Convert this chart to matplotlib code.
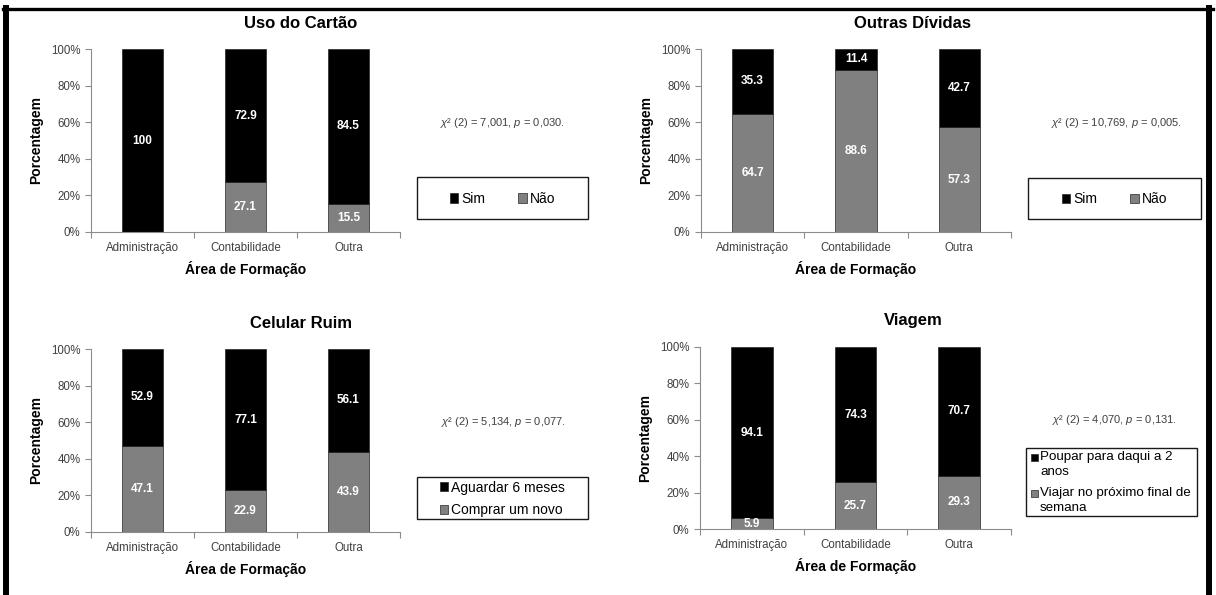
import matplotlib
matplotlib.use("Agg")
import matplotlib.pyplot as plt
from matplotlib.patches import Rectangle
from matplotlib.lines import Line2D
import numpy as np

plt.rcParams['font.family'] = ['Liberation Sans', 'DejaVu Sans']
plt.rcParams['mathtext.fontset'] = 'custom'
plt.rcParams['mathtext.rm'] = 'Liberation Sans'
plt.rcParams['mathtext.it'] = 'Liberation Sans:italic'

# data
categories = ['Administração', 'Contabilidade', 'Outra']

cartao_sim = [100, 72.9, 84.5]
cartao_nao = [0, 27.1, 15.5]

dividas_sim = [35.3, 11.4, 42.7]
dividas_nao = [64.7, 88.6, 57.3]

celular_aguardar = [52.9, 77.1, 56.1]
celular_comprar = [47.1, 22.9, 43.9]

viagem_poupar = [94.1, 74.3, 70.7]
viagem_viajar = [5.9, 25.7, 29.3]

W, H = 1216, 595
BLACK = '#000000'
GRAY = '#808080'
TICK_COLOR = '#404040'
SPINE_COLOR = '#8c8c8c'

fig = plt.figure(figsize=(W / 100, H / 100), dpi=100)


def fx(x):
    return x / W


def fy(y):
    return 1 - y / H


def wrapped_legend(labels, colors, leg_box):
    # legend with wrapped labels: marker aligned with the first line of each entry
    lx0, ly0, lx1, ly1 = leg_box
    y = ly0 + 9
    for label, color in zip(labels, colors):
        lines = label.split('\n')
        fig.patches.append(Rectangle((fx(lx0 + 5), fy(y + 3.5)), 7 / W, 7 / H,
                                     transform=fig.transFigure, facecolor=color,
                                     edgecolor='#262626', linewidth=0.5))
        for line in lines:
            fig.text(fx(lx0 + 14), fy(y), line, ha='left', va='center',
                     fontsize=9.6)
            y += 15
        y += 6


def panel(box, title, title_xy, top_vals, bottom_vals, top_label, bottom_label,
          chi, chi_xy, leg_box, ncol):
    x0, y0, x1, y1 = box
    ax = fig.add_axes([fx(x0), fy(y1), (x1 - x0) / W, (y1 - y0) / H])
    x = np.arange(len(categories))
    ax.bar(x, bottom_vals, width=0.4, color=GRAY, edgecolor='#262626', linewidth=0.5)
    ax.bar(x, top_vals, width=0.4, bottom=bottom_vals, color=BLACK,
           edgecolor='#262626', linewidth=0.5)

    # value labels centred in each segment
    for xi, b, t in zip(x, bottom_vals, top_vals):
        if b > 0:
            ax.text(xi, b / 2, f'{b:g}', ha='center', va='center', color='white',
                    fontsize=8.5, fontweight='bold')
        if t > 0:
            ax.text(xi, b + t / 2, f'{t:g}', ha='center', va='center', color='white',
                    fontsize=8.5, fontweight='bold')

    ax.set_xlim(-0.5, 2.5)
    ax.set_ylim(0, 100)
    ax.set_yticks(range(0, 101, 20))
    ax.set_yticklabels([f'{v}%' for v in range(0, 101, 20)])
    ax.set_xticks(x)
    ax.set_xticklabels(categories)
    ax.set_xticks([-0.5, 0.5, 1.5, 2.5], minor=True)
    ax.tick_params(axis='x', which='major', length=0, pad=7, labelsize=8.3,
                   labelcolor=TICK_COLOR)
    ax.tick_params(axis='x', which='minor', length=4, color=SPINE_COLOR, width=0.8)
    ax.tick_params(axis='y', length=4, color=SPINE_COLOR, width=0.8, pad=3.5,
                   labelsize=8.3, labelcolor=TICK_COLOR)
    for s in ['top', 'right']:
        ax.spines[s].set_visible(False)
    for s in ['left', 'bottom']:
        ax.spines[s].set_color(SPINE_COLOR)
        ax.spines[s].set_linewidth(0.8)
    ax.set_ylabel('Porcentagem', fontsize=10, fontweight='bold', labelpad=6)
    ax.set_xlabel('Área de Formação', fontsize=10, fontweight='bold', labelpad=5)

    fig.text(fx(title_xy[0]), fy(title_xy[1]), title, ha='center', va='center',
             fontsize=12, fontweight='bold')
    fig.text(fx(chi_xy[0]), fy(chi_xy[1]), chi, ha='center', va='center',
             fontsize=8, color='#404040')

    # legend box
    lx0, ly0, lx1, ly1 = leg_box
    fig.patches.append(Rectangle((fx(lx0), fy(ly1)), (lx1 - lx0) / W, (ly1 - ly0) / H,
                                 transform=fig.transFigure, fill=False,
                                 edgecolor='#1a1a1a', linewidth=1.0))
    if '\n' in top_label:
        wrapped_legend([top_label, bottom_label], [BLACK, GRAY], leg_box)
        return ax
    handles = [Rectangle((0, 0), 1, 1, facecolor=BLACK, edgecolor='#262626', linewidth=0.5),
               Rectangle((0, 0), 1, 1, facecolor=GRAY, edgecolor='#262626', linewidth=0.5)]
    fig.legend(handles, [top_label, bottom_label], loc='center',
               bbox_to_anchor=(fx((lx0 + lx1) / 2), fy((ly0 + ly1) / 2 + 1)),
               ncol=ncol, frameon=False, fontsize=10, handlelength=0.6,
               handleheight=0.65, handletextpad=0.2, columnspacing=2.4,
               labelspacing=0.62, borderpad=0)
    return ax


panel((91, 49, 400, 232), 'Uso do Cartão', (301, 23), cartao_sim, cartao_nao,
      'Sim', 'Não', r'$\chi$² (2) = 7,001, $p$ = 0,030.', (502, 123),
      (417, 177, 588, 219), 2)
panel((701, 49, 1011, 232), 'Outras Dívidas', (913, 23), dividas_sim, dividas_nao,
      'Sim', 'Não', r'$\chi$² (2) = 10,769, $p$ = 0,005.', (1116, 123),
      (1028, 178, 1201, 219), 2)
panel((91, 349, 400, 532), 'Celular Ruim', (301, 323), celular_aguardar, celular_comprar,
      'Aguardar 6 meses', 'Comprar um novo', r'$\chi$² (2) = 5,134, $p$ = 0,077.',
      (503, 422), (417, 477, 588, 519), 1)
panel((700, 347, 1011, 529), 'Viagem', (913, 320), viagem_poupar, viagem_viajar,
      'Poupar para daqui a 2\nanos', 'Viajar no próximo final de\nsemana',
      r'$\chi$² (2) = 4,070, $p$ = 0,131.', (1114, 420),
      (1026, 448, 1197, 516), 1)

# outer frame (left, top, right)
fig.add_artist(Line2D([fx(6), fx(6)], [fy(8), 0], transform=fig.transFigure,
                      color='black', linewidth=4.3))
fig.add_artist(Line2D([fx(3), fx(1213)], [fy(8.5), fy(8.5)], transform=fig.transFigure,
                      color='black', linewidth=2.4))
fig.add_artist(Line2D([fx(1209), fx(1209)], [fy(8), 0], transform=fig.transFigure,
                      color='black', linewidth=4.3))

fig.savefig('out.png', dpi=100)
